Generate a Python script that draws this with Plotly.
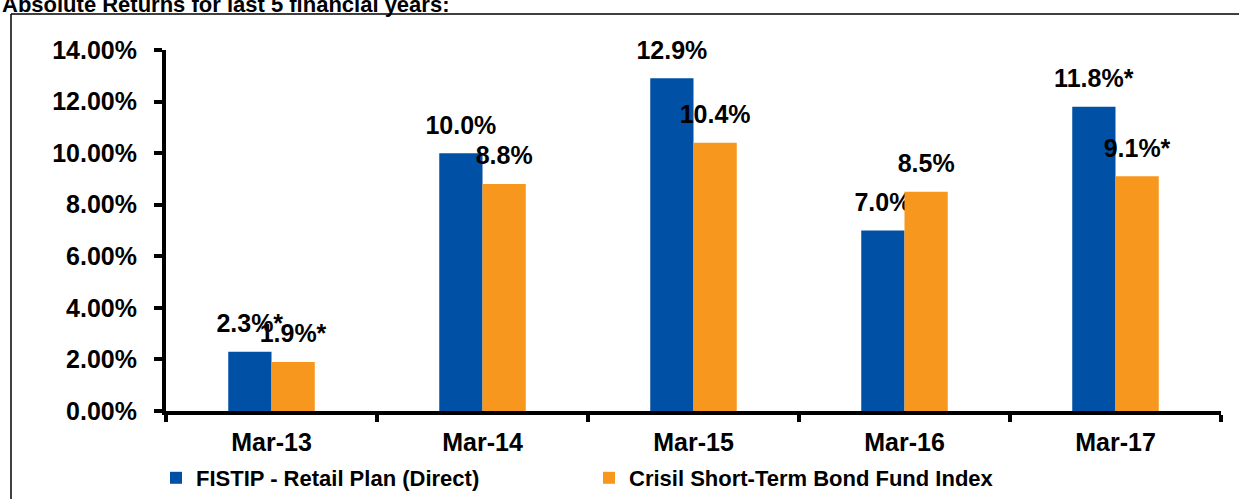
import plotly.graph_objects as go

categories = ["Mar-13", "Mar-14", "Mar-15", "Mar-16", "Mar-17"]
fistip_values = [2.3, 10.0, 12.9, 7.0, 11.8]
crisil_values = [1.9, 8.8, 10.4, 8.5, 9.1]
fistip_labels = ["2.3%*", "10.0%", "12.9%", "7.0%", "11.8%*"]
crisil_labels = ["1.9%*", "8.8%", "10.4%", "8.5%", "9.1%*"]
series_names = ["FISTIP - Retail Plan (Direct)", "Crisil Short-Term Bond Fund Index"]
y_ticks = [0, 2, 4, 6, 8, 10, 12, 14]
y_tick_labels = ["0.00%", "2.00%", "4.00%", "6.00%", "8.00%", "10.00%", "12.00%", "14.00%"]
title_text = "Absolute Returns for last 5 financial years:"

BLUE = "#0051A6"
ORANGE = "#F7971E"
FONT = "Liberation Sans, Arial, sans-serif"
LABEL_GAP = 0.45  # vertical spacing between bar top and its label (data units)

W, H = 1239, 499
L, R, T, B = 166, 18, 50, 88
pw, ph = W - L - R, H - T - B

def px_x(p):
    return (p - L) / pw

def px_y(p):
    return (H - B - p) / ph

fig = go.Figure()
for name, vals, labels, color, grp in [
    (series_names[0], fistip_values, fistip_labels, BLUE, "a"),
    (series_names[1], crisil_values, crisil_labels, ORANGE, "b"),
]:
    fig.add_trace(go.Bar(
        x=categories, y=vals, name=name, marker_color=color,
        offsetgroup=grp, marker_line_width=0, hoverinfo="x+y",
    ))
    # transparent spacer bar that carries the data label above each bar
    fig.add_trace(go.Bar(
        x=categories, y=[LABEL_GAP] * len(vals), base=vals, offsetgroup=grp,
        marker_color="rgba(0,0,0,0)", marker_line_width=0,
        text=labels, textposition="outside", cliponaxis=False, constraintext="none",
        textfont=dict(family=FONT, size=25, color="black", weight="bold"),
        showlegend=False, hoverinfo="skip",
    ))

fig.update_layout(
    width=W, height=H,
    margin=dict(l=L, r=R, t=T, b=B, autoexpand=False),
    paper_bgcolor="white", plot_bgcolor="white",
    barmode="group", bargap=0.59, bargroupgap=0,
    showlegend=True,
    legend=dict(
        orientation="h", x=px_x(156), xanchor="left", y=px_y(478), yanchor="middle",
        font=dict(family=FONT, size=22, color="black", weight="bold"),
        entrywidth=388, entrywidthmode="pixels", traceorder="normal",
    ),
    font=dict(family=FONT, color="black"),
)
fig.update_xaxes(
    showline=True, linecolor="black", linewidth=4,
    ticks="outside", tickson="boundaries", ticklen=7, tickwidth=4, tickcolor="black",
    tickfont=dict(family=FONT, size=25, color="black", weight="bold"),
    ticklabelstandoff=6, showgrid=False, zeroline=False, fixedrange=True,
)
fig.update_yaxes(
    range=[0, 14], tickvals=y_ticks, ticktext=y_tick_labels,
    showline=True, linecolor="black", linewidth=4,
    ticks="outside", ticklen=8, tickwidth=4, tickcolor="black",
    tickfont=dict(family=FONT, size=25, color="black", weight="bold"),
    ticklabelstandoff=12, showgrid=False, zeroline=False, fixedrange=True,
)

# outer frame (top and left edges of the surrounding box)
fig.add_shape(type="line", xref="paper", yref="paper",
              x0=px_x(11), x1=px_x(1245), y0=px_y(14), y1=px_y(14),
              line=dict(color="black", width=1.5))
fig.add_shape(type="line", xref="paper", yref="paper",
              x0=px_x(11), x1=px_x(11), y0=px_y(14), y1=px_y(510),
              line=dict(color="black", width=1.5))

fig.add_annotation(
    text=title_text, xref="paper", yref="paper", x=px_x(0), y=px_y(19),
    xanchor="left", yanchor="bottom", showarrow=False,
    font=dict(family=FONT, size=22, color="black", weight="bold"),
)

fig.write_html("out.html", config={"displayModeBar": False})
